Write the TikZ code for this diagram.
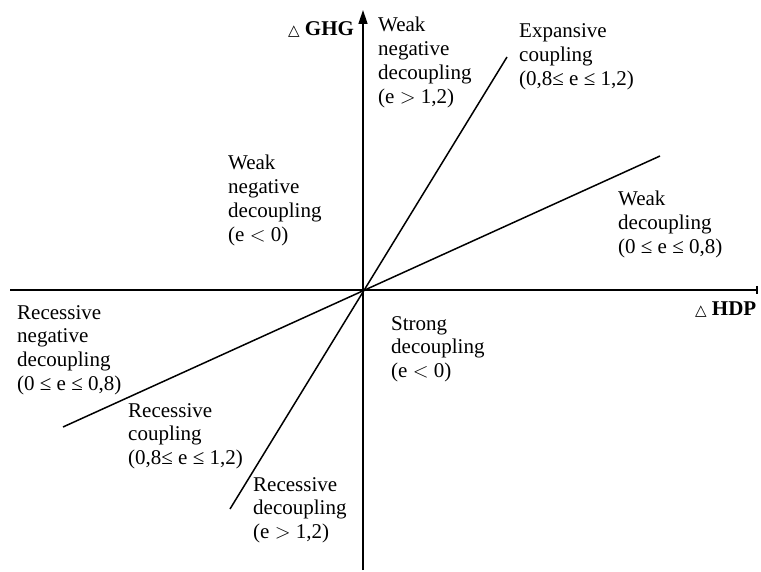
\documentclass[tikz,border=0pt]{standalone}
\usepackage{fontspec}
\setmainfont{Liberation Serif}
\newfontfamily\symfont{DejaVu Sans}
\usetikzlibrary{arrows.meta}
\tikzset{
  lbl/.style={anchor=base west, inner sep=0pt, align=left, font=\fontsize{21}{23.7}\selectfont},
  axlbl/.style={anchor=base west, inner sep=0pt, font=\fontsize{21}{23.7}\selectfont\bfseries},
  axis/.style={line width=1.6pt},
  ray/.style={line width=1.5pt}
}
\newcommand{\tri}{{\symfont\fontsize{15}{15}\selectfont\mdseries △}}
\begin{document}
\begin{tikzpicture}[x=1pt,y=-1pt]
\useasboundingbox (0,0) rectangle (761,572);
\coordinate (O) at (363,290);
\coordinate (xl) at (10,290);
\coordinate (xr) at (758,290);
\coordinate (yb) at (363,570);
\coordinate (yt) at (363,10);
\coordinate (s1) at (507,57);
\coordinate (s2) at (230,509);
\coordinate (f1) at (660,156);
\coordinate (f2) at (63,427);
\draw[axis,-{Bar[width=8pt,line width=1.6pt]}] (xl) -- (xr);
\draw[axis,-{Triangle[length=14pt,width=9pt]}] (yb) -- (yt);
\draw[ray] (s2) -- (s1);
\draw[ray] (f2) -- (f1);
\node[axlbl] (ghg) at (288,36) {\tri\ GHG};
\node[axlbl] (hdp) at (695,316) {\tri\ HDP};
\node[lbl] (wnd1) at (378,103.1) {Weak\\negative\\decoupling\\(e $>$ 1,2)};
\node[lbl] (exp) at (519,85.4) {Expansive\\coupling\\(0,8≤ e ≤ 1,2)};
\node[lbl] (wnd2) at (228,241.1) {Weak\\negative\\decoupling\\(e $<$ 0)};
\node[lbl] (wd) at (618,253.4) {Weak\\decoupling\\(0 ≤ e ≤ 0,8)};
\node[lbl] (rnd) at (17,390.1) {Recessive\\negative\\decoupling\\(0 ≤ e ≤ 0,8)};
\node[lbl] (sd) at (391,377.4) {Strong\\decoupling\\(e $<$ 0)};
\node[lbl] (rc) at (128,464.4) {Recessive\\coupling\\(0,8≤ e ≤ 1,2)};
\node[lbl] (rd) at (253,538.4) {Recessive\\decoupling\\(e $>$ 1,2)};
\end{tikzpicture}
\end{document}
